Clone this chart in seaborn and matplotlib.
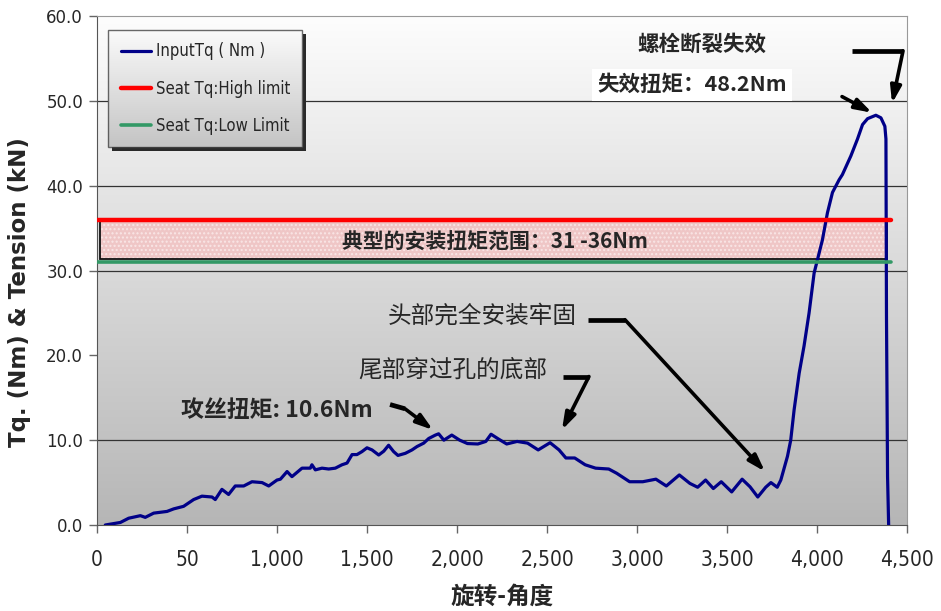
import numpy as np
import seaborn as sns
import matplotlib
matplotlib.use('Agg')
import matplotlib.pyplot as plt
from matplotlib.patches import Rectangle
from matplotlib.colors import LinearSegmentedColormap

sns.set_style('white')
plt.rcParams['font.family'] = ['Noto Sans CJK SC', 'DejaVu Sans']
plt.rcParams['axes.unicode_minus'] = False

# 数据
ANGLE = [46, 130, 176, 241, 268, 315, 389, 426, 481, 537, 583, 639, 657, 694, 731,
         768, 815, 861, 917, 954, 1000, 1019, 1056, 1083, 1139, 1185, 1194, 1213, 1250,
         1287, 1324, 1361, 1389, 1417, 1444, 1472, 1500, 1528, 1565, 1593, 1620, 1648,
         1672, 1713, 1750, 1778, 1815, 1843, 1880,
         1898, 1927, 1971, 2015, 2058, 2116, 2160, 2189, 2233, 2276,
         2334, 2392, 2451, 2517, 2567, 2605, 2654, 2712, 2770, 2843, 2887, 2959, 3032,
         3105, 3163, 3235, 3294, 3337, 3381, 3424, 3468, 3526, 3584, 3628, 3671, 3715,
         3744, 3779, 3799, 3836, 3854, 3873, 3901, 3928, 3956, 3984, 4030, 4058, 4086,
         4123, 4141, 4188, 4225, 4253, 4281, 4327, 4355, 4377, 4383, 4386, 4392, 4398]
TORQUE = [0, 0.3, 0.8, 1.1, 0.9, 1.4, 1.6, 1.9, 2.2, 3.0, 3.4, 3.3, 3.0, 4.2, 3.6,
          4.6, 4.6, 5.1, 5.0, 4.6, 5.3, 5.4, 6.3, 5.7, 6.7, 6.7, 7.1, 6.5, 6.7,
          6.6, 6.7, 7.1, 7.3, 8.3, 8.3, 8.65, 9.1, 8.85, 8.25, 8.7, 9.4, 8.65,
          8.2, 8.45, 8.85, 9.25, 9.65, 10.2, 10.6,
          10.75, 10.0, 10.6, 10.0, 9.6, 9.55, 9.85, 10.7, 10.1, 9.55,
          9.85, 9.65, 8.85, 9.7, 8.85, 7.9, 7.9, 7.1, 6.7, 6.6, 6.1, 5.1, 5.1,
          5.4, 4.6, 5.9, 4.9, 4.45, 5.3, 4.3, 5.1, 3.9, 5.4, 4.5, 3.3, 4.45,
          5.0, 4.45, 5.3, 8.1, 10.0, 13.6, 17.9, 21.1, 25.0, 29.7, 33.6, 36.8, 39.2,
          40.7, 41.3, 43.5, 45.5, 47.2, 47.9, 48.3, 48.0, 47.0, 45.5, 24.6, 5.7, 0]

LIMIT_ANGLE = [0, 4410]
HIGH_LIMIT = [36, 36]
LOW_LIMIT = [31, 31]
RANGE_ANGLE = [19, 4390]
RANGE_TQ = [31.3, 35.8]

XTICKS = [0, 500, 1000, 1500, 2000, 2500, 3000, 3500, 4000, 4500]
XTICK_LABELS = ['0', '50', '1,000', '1,500', '2,000', '2,500', '3,000', '3,500', '4,000', '4,500']
YTICKS = [0, 10, 20, 30, 40, 50, 60]
GRID_Y = [10, 30, 40, 50]

fig = plt.figure(figsize=(9.41, 6.11), dpi=100)
ax = fig.add_axes([97/941, 1 - 525/611, 810/941, 509/611])

# 背景渐变
bg = LinearSegmentedColormap.from_list('bg', ['#b6b6b6', '#fdfdfd'])
ax.imshow(np.linspace(0, 1, 256).reshape(-1, 1), extent=[0, 4500, 0, 60],
          origin='lower', aspect='auto', cmap=bg, zorder=0)
ax.hlines(GRID_Y, 0, 4500, color='#333333', lw=0.9, zorder=1)

# 安装扭矩范围
ax.add_patch(Rectangle((RANGE_ANGLE[0], RANGE_TQ[0]), RANGE_ANGLE[1] - RANGE_ANGLE[0],
                       RANGE_TQ[1] - RANGE_TQ[0], facecolor='#efc6c6', edgecolor='#f9e6e6',
                       hatch='....', lw=0, zorder=2))
ax.add_patch(Rectangle((RANGE_ANGLE[0], RANGE_TQ[0]), RANGE_ANGLE[1] - RANGE_ANGLE[0],
                       RANGE_TQ[1] - RANGE_TQ[0], fill=False, edgecolor='#111111', lw=1.3, zorder=2.5))

sns.lineplot(x=ANGLE, y=TORQUE, ax=ax, color='#000088', lw=2.3, sort=False,
             estimator=None, label='InputTq ( Nm )', zorder=3)
sns.lineplot(x=LIMIT_ANGLE, y=HIGH_LIMIT, ax=ax, color='#ff0000', lw=3.2,
             label='Seat Tq:High limit', zorder=4)
sns.lineplot(x=LIMIT_ANGLE, y=LOW_LIMIT, ax=ax, color='#339966', lw=2.6,
             label='Seat Tq:Low Limit', zorder=4)

# 文字标注
ax.text(2211, 33.3, '典型的安装扭矩范围：31 -36Nm', ha='center', va='center',
        fontsize=15, fontweight='bold', zorder=5)
ax.text(3361, 56.7, '螺栓断裂失效', ha='center', va='center', fontsize=15.5, fontweight='bold', zorder=5)
ax.text(3306, 51.9, '失效扭矩：48.2Nm', ha='center', va='center', fontsize=15.5, fontweight='bold',
        bbox=dict(facecolor='white', edgecolor='none', pad=4), zorder=5)
ax.text(2139, 24.6, '头部完全安装牢固', ha='center', va='center', fontsize=17,
        fontweight='medium', zorder=5)
ax.text(1978, 18.3, '尾部穿过孔的底部', ha='center', va='center', fontsize=17,
        fontweight='medium', zorder=5)
ax.text(1000, 13.5, '攻丝扭矩: 10.6Nm', ha='center', va='center', fontsize=16.5,
        fontweight='bold', zorder=5)

# 箭头
arrow_style = dict(arrowstyle='-|>,head_length=1.0,head_width=0.32', color='black',
                   lw=2.6, shrinkA=0, shrinkB=0)
bent = [((1628, 14.2), (1711, 13.7), (1867, 11.2)),
        ((2589, 17.5), (2733, 17.5), (2583, 11.2)),
        ((2728, 24.2), (2933, 24.2), (3711, 6.3)),
        ((4194, 55.9), (4478, 55.9), (4417, 49.7))]
for p0, p1, p2 in bent:
    ax.plot([p0[0], p1[0]], [p0[1], p1[1]], color='black', lw=3.4,
            solid_capstyle='butt', zorder=5)
    ax.annotate('', xy=p2, xytext=p1, arrowprops=arrow_style, zorder=5)
ax.annotate('', xy=(4306, 48.6), xytext=(4139, 50.5), arrowprops=arrow_style, zorder=5)

# 坐标轴
ax.set_xlim(0, 4500)
ax.set_ylim(0, 60)
ax.set_xticks(XTICKS)
ax.set_xticklabels(XTICK_LABELS, fontsize=15, family='DejaVu Sans', fontstretch='condensed')
ax.set_yticks(YTICKS)
ax.set_yticklabels([f'{v:.1f}' for v in YTICKS], fontsize=12, family='DejaVu Sans')
ax.tick_params(axis='x', direction='out', length=6, width=1, color='#666666', pad=12, bottom=True)
ax.tick_params(axis='y', direction='out', length=6, width=1, color='#666666', pad=4, left=True)
for side in ['left', 'bottom']:
    ax.spines[side].set_color('#555555')
for side in ['top', 'right']:
    ax.spines[side].set_color('#999999')

ax.set_ylabel('Tq. (Nm) & Tension (kN)', fontsize=16.5, fontweight='bold', family='DejaVu Sans')
ax.yaxis.set_label_coords(-66/810, 233/509)
ax.set_xlabel('旋转-角度', fontsize=17, fontweight='bold')
ax.xaxis.set_label_coords(0.5, -60/509)

leg = ax.legend(loc='upper left', bbox_to_anchor=(11/810, 495/509), borderaxespad=0,
                frameon=True, fancybox=False,
                prop={'family': 'DejaVu Sans', 'stretch': 'condensed', 'size': 12},
                handlelength=1.8, handletextpad=0.3, labelspacing=1.15, borderpad=0.75)
leg.get_frame().set_facecolor('none')
leg.get_frame().set_edgecolor('#444444')
leg.set_zorder(10)

# 图例背景: 渐变 + 阴影
fig.canvas.draw()
bb = leg.get_frame().get_window_extent().transformed(ax.transAxes.inverted())
ax.add_patch(Rectangle((bb.x0 + 4/810, bb.y0 - 4/509), bb.width, bb.height,
                       transform=ax.transAxes, facecolor='#2a2a2a', edgecolor='none',
                       zorder=8, clip_on=False))
leg_bg = LinearSegmentedColormap.from_list('leg', ['#c4c4c4', '#fbfbfb'])
ax.imshow(np.linspace(0, 1, 256).reshape(-1, 1), cmap=leg_bg, origin='lower',
          extent=[bb.x0, bb.x1, bb.y0, bb.y1], transform=ax.transAxes,
          aspect='auto', zorder=9)
ax.set_xlim(0, 4500)
ax.set_ylim(0, 60)

fig.savefig('out.png', dpi=100)
